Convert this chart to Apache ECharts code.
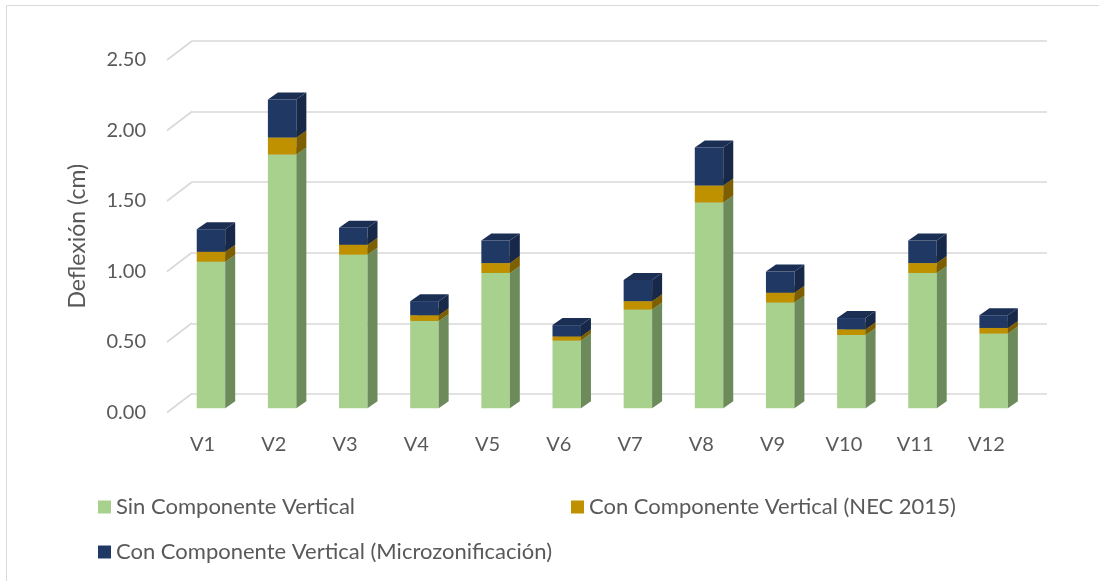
<!DOCTYPE html>
<html>
<head>
<meta charset="utf-8">
<script src="https://cdn.jsdelivr.net/npm/echarts@6/dist/echarts.min.js"></script>
<style>
html,body{margin:0;padding:0;background:#fff;}
#chart{width:1099px;height:581px;}
</style>
</head>
<body>
<div id="chart"></div>
<script>
var categories = ['V1','V2','V3','V4','V5','V6','V7','V8','V9','V10','V11','V12'];
var sinComponente = [1.04,1.80,1.09,0.62,0.96,0.48,0.70,1.46,0.75,0.52,0.96,0.53];
var conNEC = [0.07,0.12,0.07,0.04,0.07,0.03,0.06,0.12,0.07,0.04,0.07,0.04];
var conMicro = [0.16,0.27,0.12,0.10,0.16,0.08,0.15,0.27,0.15,0.08,0.16,0.09];
var yTicks = [0,0.5,1,1.5,2,2.5];
var seriesNames = ['Sin Componente Vertical','Con Componente Vertical (NEC 2015)','Con Componente Vertical (Microzonificación)'];

var FONT = 'Lato';
var TXT = '#595959';
var DX = 10, DY = -7;

function boxRender(colors){
  return function(params, api){
    var i = api.value(0), b = api.value(1), t = api.value(2);
    var p0 = api.coord([i, b]), p1 = api.coord([i, t]);
    var w = api.size([1,0])[0]*0.4;
    var x0 = p0[0]-w/2, x1 = p0[0]+w/2, yb = p0[1], yt = p1[1];
    return {type:'group', children:[
      {type:'rect', shape:{x:x0,y:yt,width:w,height:yb-yt}, style:{fill:colors[0]}},
      {type:'polygon', shape:{points:[[x1,yb],[x1+DX,yb+DY],[x1+DX,yt+DY],[x1,yt]]}, style:{fill:colors[1]}},
      {type:'polygon', shape:{points:[[x0,yt],[x0+DX,yt+DY],[x1+DX,yt+DY],[x1,yt]]}, style:{fill:colors[2]}}
    ]};
  };
}

function stackData(base, vals){
  return vals.map(function(v,i){ return [i, base[i], base[i]+v]; });
}
var zeros = categories.map(function(){return 0;});
var lvl1 = sinComponente.slice();
var lvl2 = sinComponente.map(function(v,i){return v+conNEC[i];});

var chart = echarts.init(document.getElementById('chart'));
chart.setOption({
  animation:false,
  backgroundColor:'#fff',
  textStyle:{fontFamily:FONT},
  graphic:[{type:'rect', shape:{x:6.5,y:5.5,width:1200,height:700}, style:{fill:'none', stroke:'#d9d9d9', lineWidth:1}, silent:true}],
  grid:[
    {left:192, right:52, top:41, bottom:187},
    {left:167, right:77, top:60, bottom:168.5},
    {left:175.4, right:69.8, top:55.8, bottom:172.7}
  ],
  xAxis:[
    {gridIndex:0, type:'category', data:categories, show:false},
    {gridIndex:1, type:'category', data:categories,
      axisLine:{show:false}, axisTick:{show:false},
      axisLabel:{color:TXT, fontSize:20, fontFamily:FONT, margin:22}},
    {gridIndex:2, type:'category', data:categories, show:false}
  ],
  yAxis:[
    {gridIndex:0, type:'value', min:0, max:2.5, interval:0.5,
      axisLabel:{show:false}, axisLine:{show:false}, axisTick:{show:false},
      splitLine:{show:true, lineStyle:{color:'#d9d9d9', width:1.6}}},
    {gridIndex:1, type:'value', min:0, max:2.5, interval:0.5,
      axisLine:{show:false}, axisTick:{show:false}, splitLine:{show:false},
      axisLabel:{color:TXT, fontSize:20, fontFamily:FONT, margin:21,
        formatter:function(v){return v.toFixed(2);}},
      name:'Deflexión (cm)', nameLocation:'middle', nameRotate:90, nameGap:78,
      nameTextStyle:{color:TXT, fontSize:23, fontFamily:FONT}},
    {gridIndex:2, type:'value', min:0, max:2.5, interval:0.5, show:false}
  ],
  legend:[
    {data:[seriesNames[0]], left:93, top:491, icon:'rect', itemWidth:13, itemHeight:13, itemGap:10,
      textStyle:{color:TXT, fontSize:22, fontFamily:FONT}, selectedMode:false},
    {data:[seriesNames[1]], left:566, top:491, icon:'rect', itemWidth:13, itemHeight:13,
      textStyle:{color:TXT, fontSize:22, fontFamily:FONT}, selectedMode:false},
    {data:[seriesNames[2]], left:93, top:536, icon:'rect', itemWidth:13, itemHeight:13,
      textStyle:{color:TXT, fontSize:22, fontFamily:FONT}, selectedMode:false}
  ],
  series:[
    {type:'custom', name:'diag', xAxisIndex:1, yAxisIndex:1, silent:true,
      data:yTicks.map(function(v){return [0,v];}),
      renderItem:function(params, api){
        var c = api.coord([0, api.value(1)]);
        var left = c[0] - api.size([1,0])[0]/2;
        return {type:'line', shape:{x1:left,y1:c[1],x2:left+25,y2:c[1]-19},
          style:{stroke:'#d9d9d9', lineWidth:1.6}};
      }},
    {type:'custom', name:seriesNames[0], xAxisIndex:2, yAxisIndex:2, silent:true,
      itemStyle:{color:'#a9d18e'},
      data:stackData(zeros, sinComponente),
      renderItem:boxRender(['#a9d18e','#6d8a5b','#8bb072'])},
    {type:'custom', name:seriesNames[1], xAxisIndex:2, yAxisIndex:2, silent:true,
      itemStyle:{color:'#bf9000'},
      data:stackData(lvl1, conNEC),
      renderItem:boxRender(['#bf9000','#7d5e00','#9c7600'])},
    {type:'custom', name:seriesNames[2], xAxisIndex:2, yAxisIndex:2, silent:true,
      itemStyle:{color:'#203864'},
      data:stackData(lvl2, conMicro),
      renderItem:boxRender(['#203864','#172848','#1b2f55'])}
  ]
});
</script>
</body>
</html>
